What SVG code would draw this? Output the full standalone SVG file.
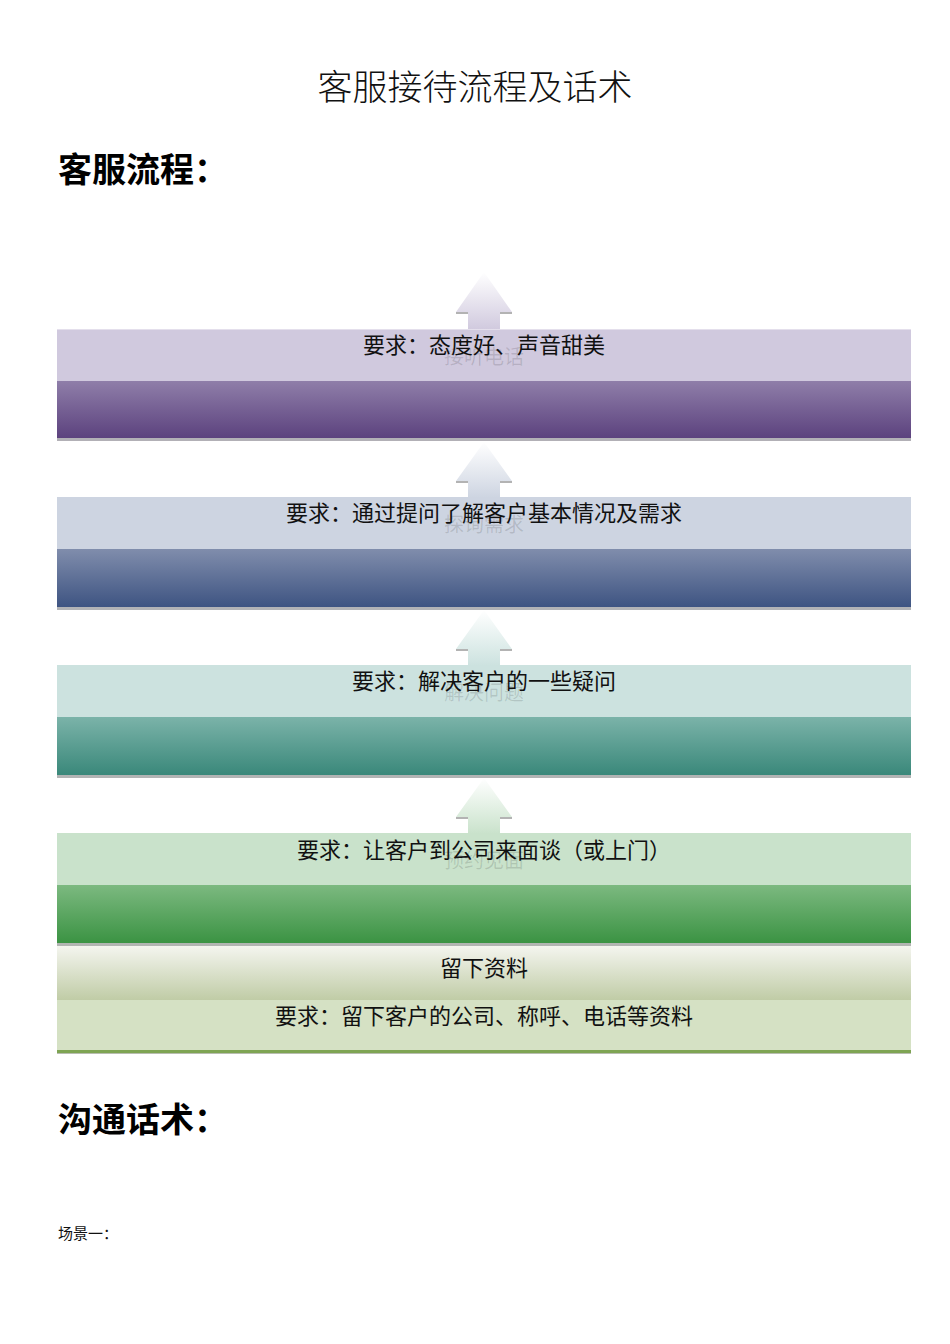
<svg xmlns="http://www.w3.org/2000/svg" width="950" height="1344" viewBox="0 0 950 1344">
<style>
.t{font-family:"Noto Sans CJK SC","Noto Sans",sans-serif;fill:#111;text-anchor:middle;font-size:22px}
.f{font-family:"Noto Sans CJK SC","Noto Sans",sans-serif;fill:#000;fill-opacity:0.13;text-anchor:middle;font-size:20px}
.h{font-family:"Noto Sans CJK SC","Noto Sans",sans-serif;fill:#000;font-size:34px;font-weight:bold}
.sh{fill:#b3b3b3}
</style>
<defs>
<linearGradient id="d1" x1="0" y1="0" x2="0" y2="1"><stop offset="0" stop-color="#8f7ea9"/><stop offset="1" stop-color="#5c427e"/></linearGradient>
<linearGradient id="d2" x1="0" y1="0" x2="0" y2="1"><stop offset="0" stop-color="#808dac"/><stop offset="1" stop-color="#3e5482"/></linearGradient>
<linearGradient id="d3" x1="0" y1="0" x2="0" y2="1"><stop offset="0" stop-color="#7bb3a9"/><stop offset="1" stop-color="#3a887a"/></linearGradient>
<linearGradient id="d4" x1="0" y1="0" x2="0" y2="1"><stop offset="0" stop-color="#7cb980"/><stop offset="1" stop-color="#3b9343"/></linearGradient>
<linearGradient id="d5" x1="0" y1="0" x2="0" y2="1"><stop offset="0" stop-color="#f4f5ef"/><stop offset="1" stop-color="#c0cca6"/></linearGradient>
<linearGradient id="a1" x1="0" y1="0" x2="0" y2="1"><stop offset="0" stop-color="#ffffff"/><stop offset="1" stop-color="#d0c9de"/></linearGradient>
<linearGradient id="a2" x1="0" y1="0" x2="0" y2="1"><stop offset="0" stop-color="#ffffff"/><stop offset="1" stop-color="#cdd4e1"/></linearGradient>
<linearGradient id="a3" x1="0" y1="0" x2="0" y2="1"><stop offset="0" stop-color="#ffffff"/><stop offset="1" stop-color="#cce2df"/></linearGradient>
<linearGradient id="a4" x1="0" y1="0" x2="0" y2="1"><stop offset="0" stop-color="#ffffff"/><stop offset="1" stop-color="#c9e2cb"/></linearGradient>
</defs>
<rect width="950" height="1344" fill="#ffffff"/>

<g id="title">
<text x="475" y="100" style="font-family:'Noto Sans CJK SC',sans-serif;font-size:35px;font-weight:300;text-anchor:middle;fill:#111">客服接待流程及话术</text>
</g>
<g id="heading1"><text class="h" x="58" y="182">客服流程：</text></g>

<g id="connectors">
<path d="M484 272 L512 312 L500 312 L500 330 L468 330 L468 312 L456 312 Z" fill="url(#a1)"/>
<rect class="sh" x="456" y="312" width="12" height="2"/><rect class="sh" x="500" y="312" width="12" height="2"/>
<path d="M484 442 L512 481 L500 481 L500 498 L468 498 L468 481 L456 481 Z" fill="url(#a2)"/>
<rect class="sh" x="456" y="481" width="12" height="2"/><rect class="sh" x="500" y="481" width="12" height="2"/>
<path d="M484 610 L512 649 L500 649 L500 666 L468 666 L468 649 L456 649 Z" fill="url(#a3)"/>
<rect class="sh" x="456" y="649" width="12" height="2"/><rect class="sh" x="500" y="649" width="12" height="2"/>
<path d="M484 778 L512 817 L500 817 L500 834 L468 834 L468 817 L456 817 Z" fill="url(#a4)"/>
<rect class="sh" x="456" y="817" width="12" height="2"/><rect class="sh" x="500" y="817" width="12" height="2"/>
</g>

<g id="step1">
<rect x="57" y="329" width="854" height="52" fill="#d0c9de"/>
<rect x="57" y="329" width="854" height="1" fill="#e4dfec"/>
<rect x="57" y="381" width="854" height="57" fill="url(#d1)"/>
<rect x="57" y="438" width="854" height="3" fill="#b2b0b6"/>
<text class="f" x="484" y="364">接听电话</text>
<text class="t" x="484" y="353">要求：态度好、声音甜美</text>
</g>

<g id="step2">
<rect x="57" y="497" width="854" height="52" fill="#cdd4e1"/>
<rect x="57" y="549" width="854" height="58" fill="url(#d2)"/>
<rect x="57" y="607" width="854" height="3" fill="#b2b3b6"/>
<text class="f" x="484" y="532">探询需求</text>
<text class="t" x="484" y="521">要求：通过提问了解客户基本情况及需求</text>
</g>

<g id="step3">
<rect x="57" y="665" width="854" height="52" fill="#cce2df"/>
<rect x="57" y="717" width="854" height="58" fill="url(#d3)"/>
<rect x="57" y="775" width="854" height="3" fill="#b2b4b4"/>
<text class="f" x="484" y="700">解决问题</text>
<text class="t" x="484" y="689">要求：解决客户的一些疑问</text>
</g>

<g id="step4">
<rect x="57" y="833" width="854" height="52" fill="#c9e2cb"/>
<rect x="57" y="885" width="854" height="58" fill="url(#d4)"/>
<rect x="57" y="943" width="854" height="3" fill="#b2b5b2"/>
<text class="f" x="484" y="868">预约见面</text>
<text class="t" x="484" y="858">要求：让客户到公司来面谈（或上门）</text>
</g>

<g id="step5">
<rect x="57" y="946" width="854" height="54" fill="url(#d5)"/>
<rect x="57" y="1000" width="854" height="50" fill="#d5e1c4"/>
<rect x="57" y="1050" width="854" height="3" fill="#7ea453"/>
<rect x="57" y="1053" width="854" height="1" fill="#b8bdb0"/>
<text class="t" x="484" y="976">留下资料</text>
<text class="t" x="484" y="1024">要求：留下客户的公司、称呼、电话等资料</text>
</g>

<g id="heading2"><text class="h" x="58" y="1132">沟通话术：</text></g>
<g id="scene1"><text x="58" y="1239" style="font-family:'Noto Sans CJK SC',sans-serif;font-size:15px;fill:#111">场景一：</text></g>
</svg>
